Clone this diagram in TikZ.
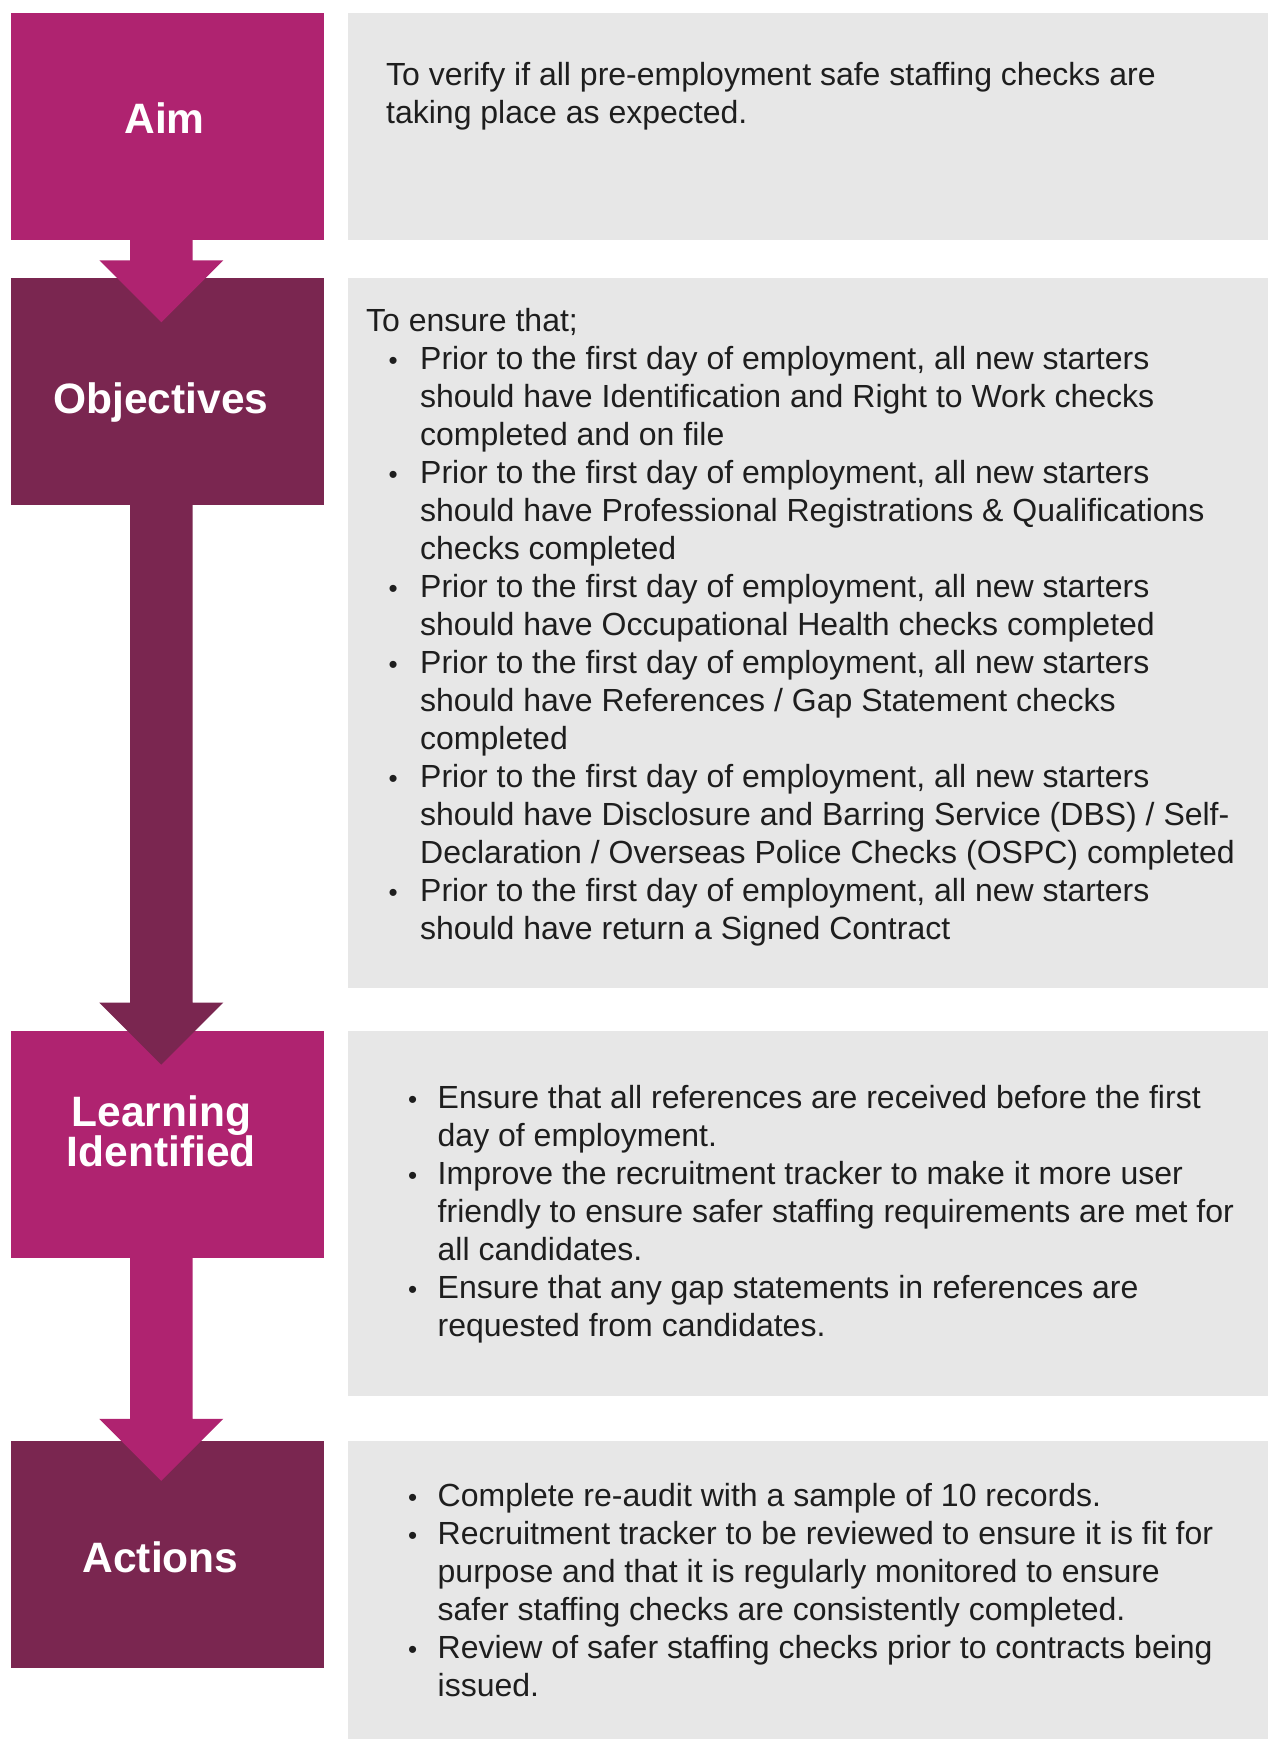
\documentclass[tikz,border=0pt]{standalone}
\usepackage{fontspec}
\setmainfont{Liberation Sans}
\usetikzlibrary{calc}

\definecolor{aimmag}{HTML}{AF2370}
\definecolor{objplum}{HTML}{7A2650}
\definecolor{panelgray}{HTML}{E7E7E7}
\definecolor{bodyink}{HTML}{1E1E1E}

\newcommand{\bodyfont}{\fontsize{32}{38}\selectfont}
\newcommand{\headfont}{\fontsize{42.5}{40}\selectfont\bfseries}
\newlength{\bulind}
\newlength{\bultext}
\newcommand{\bul}{\hspace*{\bulind}\makebox[\dimexpr\bultext-\bulind\relax][l]{\fontsize{26}{26}\selectfont\textbullet}}
\newcommand{\ind}{\hspace*{\bultext}}

\begin{document}
\begin{tikzpicture}[
        x=1pt, y=-1pt,
        stage/.style={rectangle, minimum width=313pt, minimum height=227pt, inner sep=0pt},
        panel/.style={rectangle, fill=panelgray, anchor=north west, inner sep=0pt, minimum width=920pt},
        title/.style={text=white, font=\headfont, align=center, inner sep=0pt},
        detail/.style 2 args={anchor=north west, inner sep=0pt, align=left, text=bodyink,
            font=\bodyfont\setlength{\bulind}{#1}\setlength{\bultext}{#2}}
    ]
    \useasboundingbox (0,0) rectangle (1268,1739);
    % grey panels on the right
    \foreach \name/\top/\h in {aimp/13/226.5pt, objp/277.7/710pt, learnp/1031/364.5pt, actp/1440.5/298.5pt}
        \node[panel, minimum height=\h] (\name) at (348,\top) {};
    % coloured stage boxes on the left
    \foreach \name/\pos/\col in {aim/{(167.5,126.3)}/aimmag, obj/{(167.5,391.4)}/objplum,
                                 learn/{(167.5,1144.3)}/aimmag, act/{(167.5,1554.2)}/objplum}
        \node[stage, fill=\col] (\name) at \pos {};
    % block arrows from one stage into the next
    \foreach \src/\dst/\col/\dip in {aim/obj/aimmag/44.6pt, obj/learn/objplum/34pt, learn/act/aimmag/40.3pt}
        \fill[\col] let \p1=([xshift=-6.2pt]\src.south), \p2=([xshift=-6.2pt,yshift=-\dip]\dst.north) in
            (\x1-31.3pt,\y1) -- (\x1+31.3pt,\y1) -- (\x1+31.3pt,\y2+62pt) -- (\x1+62pt,\y2+62pt)
            -- (\p2) -- (\x1-62pt,\y2+62pt) -- (\x1-31.3pt,\y2+62pt) -- cycle;
    % stage titles
    \node[title, anchor=base] (aimt) at (164.5,133.2) {Aim};
    \node[title, anchor=base] (objt) at (161,413.3) {Objectives};
    \node[title, anchor=north] (learnt) at (161.3,1094.3) {\rule{0pt}{32pt}Learning\\Identified};
    \node[title, anchor=base] (actt) at (160.5,1572.3) {Actions};
    % panel texts
    \node[detail={0pt}{0pt}] (aimd) at (386,58.4) {\strut To verify if all pre-employment safe staffing checks are\\
        taking place as expected.};
    \node[detail={22.4pt}{54pt}] (objd) at (366,305.1) {\strut To ensure that;\\
        \bul Prior to the first day of employment, all new starters\\
        \ind should have Identification and Right to Work checks\\
        \ind completed and on file\\
        \bul Prior to the first day of employment, all new starters\\
        \ind should have Professional Registrations \& Qualifications\\
        \ind checks completed\\
        \bul Prior to the first day of employment, all new starters\\
        \ind should have Occupational Health checks completed\\
        \bul Prior to the first day of employment, all new starters\\
        \ind should have References / Gap Statement checks\\
        \ind completed\\
        \bul Prior to the first day of employment, all new starters\\
        \ind should have Disclosure and Barring Service (DBS) / Self-\\
        \ind Declaration / Overseas Police Checks (OSPC) completed\\
        \bul Prior to the first day of employment, all new starters\\
        \ind should have return a Signed Contract};
    \node[detail={0pt}{29.6pt}] (learnd) at (407.9,1081.9) {\strut\bul Ensure that all references are received before the first\\
        \ind day of employment.\\
        \bul Improve the recruitment tracker to make it more user\\
        \ind friendly to ensure safer staffing requirements are met for\\
        \ind all candidates.\\
        \bul Ensure that any gap statements in references are\\
        \ind requested from candidates.};
    \node[detail={0pt}{29.6pt}] (actd) at (407.9,1479.4) {\strut\bul Complete re-audit with a sample of 10 records.\\
        \bul Recruitment tracker to be reviewed to ensure it is fit for\\
        \ind purpose and that it is regularly monitored to ensure\\
        \ind safer staffing checks are consistently completed.\\
        \bul Review of safer staffing checks prior to contracts being\\
        \ind issued.};
\end{tikzpicture}
\end{document}
